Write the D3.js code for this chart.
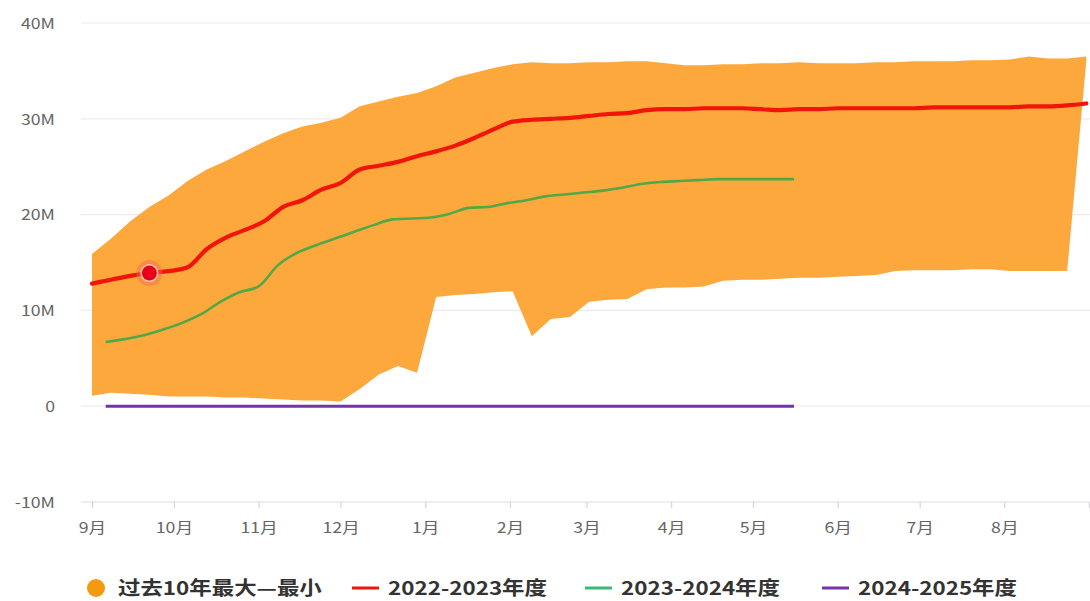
<!DOCTYPE html>
<html>
<head>
<meta charset="utf-8">
<script src="https://cdn.jsdelivr.net/npm/d3@7"></script>
<style>
  html, body { margin: 0; padding: 0; background: #fff; }
  svg { display: block; }
  text { font-family: "Noto Sans CJK SC", "Noto Sans", sans-serif; }
</style>
</head>
<body>
<svg id="chart" width="1090" height="601"></svg>
<script>
// ---------- data (values in millions) ----------
const seasonStart = "2022-09-01";
const seasonEnd = "2023-09-01";
// weekly points of the reference band and the 2022-2023 season
const bandStart = "2022-09-01";
const bandMax = [15.9,17.5,19.3,20.8,22.0,23.5,24.7,25.6,26.6,27.6,28.5,29.2,29.6,30.1,31.3,31.8,32.3,32.7,33.4,34.3,34.8,35.3,35.7,35.9,35.8,35.8,35.9,35.9,36.0,36.0,35.8,35.6,35.6,35.7,35.7,35.8,35.8,35.9,35.8,35.8,35.8,35.9,35.9,36.0,36.0,36.0,36.1,36.1,36.2,36.5,36.3,36.3,36.5];
const bandMin = [1.1,1.4,1.3,1.2,1.0,1.0,1.0,0.9,0.9,0.8,0.7,0.6,0.6,0.5,1.8,3.3,4.2,3.5,11.4,11.6,11.7,11.9,12.0,7.3,9.1,9.3,10.9,11.1,11.2,12.2,12.4,12.4,12.5,13.1,13.2,13.2,13.3,13.4,13.4,13.5,13.6,13.7,14.1,14.2,14.2,14.2,14.3,14.3,14.1,14.1,14.1,14.1,36.0];
const season2223 = [12.8,13.2,13.6,13.9,14.1,14.5,16.4,17.6,18.4,19.3,20.8,21.5,22.6,23.3,24.7,25.1,25.5,26.1,26.6,27.2,28.0,28.9,29.7,29.9,30.0,30.1,30.3,30.5,30.6,30.9,31.0,31.0,31.1,31.1,31.1,31.0,30.9,31.0,31.0,31.1,31.1,31.1,31.1,31.1,31.2,31.2,31.2,31.2,31.2,31.3,31.3,31.4,31.6];
// weekly points of the 2023-2024 and 2024-2025 seasons (plotted on the same Sep-Aug axis)
const recentStart = "2022-09-06";
const season2324 = [6.7,7.0,7.4,8.0,8.7,9.6,10.9,11.9,12.5,14.7,16.0,16.8,17.5,18.2,18.9,19.5,19.6,19.7,20.1,20.7,20.8,21.2,21.5,21.9,22.1,22.3,22.5,22.8,23.2,23.4,23.5,23.6,23.7,23.7,23.7,23.7,23.7];
const season2425 = [0,0,0,0,0,0,0,0,0,0,0,0,0,0,0,0,0,0,0,0,0,0,0,0,0,0,0,0,0,0,0,0,0,0,0,0,0];
const highlightIndex = 3; // highlighted point on the 2022-2023 line
const yTicks = [-10, 0, 10, 20, 30, 40];
const legendLabels = ["过去10年最大—最小", "2022-2023年度", "2023-2024年度", "2024-2025年度"];
const colors = { band: "#fca83d", bandLegend: "#f59a0f", s2223: "#f01508", s2324: "#52a846", s2324Legend: "#3db87a", s2425: "#7535a8" };

// ---------- helpers ----------
const parse = d3.timeParse("%Y-%m-%d");
function weekly(start, n) {
  const s = parse(start);
  return d3.range(n).map(i => d3.timeDay.offset(s, i * 7));
}
const bandDates = weekly(bandStart, bandMax.length);
const recentDates = weekly(recentStart, season2324.length);
const STRETCH = 1.18;
function stretch(sel) {
  sel.each(function () {
    const w = this.getComputedTextLength();
    d3.select(this).attr("textLength", w * STRETCH).attr("lengthAdjust", "spacingAndGlyphs");
  });
}

// ---------- layout ----------
const svg = d3.select("#chart");
const gridLeft = 81, gridRight = 1090;
const x = d3.scaleTime().domain([parse(seasonStart), parse(seasonEnd)]).range([92, 1089]);
const y = d3.scaleLinear().domain([-10, 40]).range([502, 23]);

// grid lines
svg.append("g")
  .selectAll("line").data(yTicks).join("line")
  .attr("x1", gridLeft).attr("x2", gridRight)
  .attr("y1", d => y(d)).attr("y2", d => y(d))
  .attr("stroke", d => d === -10 ? "#dcdde3" : "#ececec")
  .attr("stroke-width", 1.2);

// y axis labels
const yAxis = d3.axisLeft(y).tickValues(yTicks).tickSize(0).tickPadding(26)
  .tickFormat(d => d === 0 ? "0" : d + "M");
const gy = svg.append("g").attr("transform", `translate(${gridLeft},0)`).call(yAxis);
gy.select(".domain").remove();
gy.selectAll("text").attr("fill", "#666").style("font-size", "15px").attr("dy", "0.35em").call(stretch);

// x axis
const xAxis = d3.axisBottom(x).ticks(d3.timeMonth.every(1)).tickSize(6).tickPadding(14)
  .tickFormat(d => (d.getMonth() + 1) + "月");
const gx = svg.append("g").attr("transform", `translate(0,${y(-10)})`).call(xAxis);
gx.select(".domain").remove();
gx.selectAll(".tick line").attr("stroke", "#d5d6dc").attr("stroke-width", 1.2);
gx.selectAll("text").attr("fill", "#666").style("font-size", "15px").call(stretch);
gx.selectAll(".tick").filter(d => +d === +parse(seasonEnd)).select("text").remove();

// band
const area = d3.area()
  .x((d, i) => x(bandDates[i]))
  .y0((d, i) => y(bandMin[i]))
  .y1((d, i) => y(bandMax[i]))
  .curve(d3.curveLinear);
svg.append("path").datum(bandMax).attr("d", area).attr("fill", colors.band);

// lines
const line = dates => d3.line().x((d, i) => x(dates[i])).y(d => y(d)).curve(d3.curveMonotoneX);
svg.append("path").datum(season2425).attr("d", line(recentDates))
  .attr("fill", "none").attr("stroke", colors.s2425).attr("stroke-width", 3);
svg.append("path").datum(season2324).attr("d", line(recentDates))
  .attr("fill", "none").attr("stroke", colors.s2324).attr("stroke-width", 2.6);
svg.append("path").datum(season2223).attr("d", line(bandDates))
  .attr("fill", "none").attr("stroke", colors.s2223).attr("stroke-width", 4.2).attr("stroke-linecap", "round");

// highlighted point
const hx = x(bandDates[highlightIndex]), hy = y(season2223[highlightIndex]);
svg.append("circle").attr("cx", hx).attr("cy", hy).attr("r", 13).attr("fill", "#f46a4a").attr("opacity", 0.45);
svg.append("circle").attr("cx", hx).attr("cy", hy).attr("r", 9).attr("fill", "#ffc2b0");
svg.append("circle").attr("cx", hx).attr("cy", hy).attr("r", 7.5).attr("fill", "#e8001a");

// legend
const legendY = 588;
const legendX = [96, 352, 585, 822];
const lg = svg.append("g");
legendLabels.forEach((label, i) => {
  const g = lg.append("g").attr("transform", `translate(${legendX[i]},${legendY})`);
  let textX;
  if (i === 0) {
    g.append("circle").attr("cx", 0).attr("cy", 0).attr("r", 9).attr("fill", colors.bandLegend);
    textX = 22;
  } else {
    const c = i === 1 ? colors.s2223 : i === 2 ? colors.s2324Legend : colors.s2425;
    g.append("line").attr("x1", 0).attr("x2", 27).attr("y1", 0).attr("y2", 0)
      .attr("stroke", c).attr("stroke-width", 3);
    textX = 36;
  }
  g.append("text").attr("x", textX).attr("y", 0).attr("dy", "0.36em")
    .attr("fill", "#333").style("font-size", "19px").style("font-weight", "bold")
    .text(label).call(stretch);
});
</script>
</body>
</html>
